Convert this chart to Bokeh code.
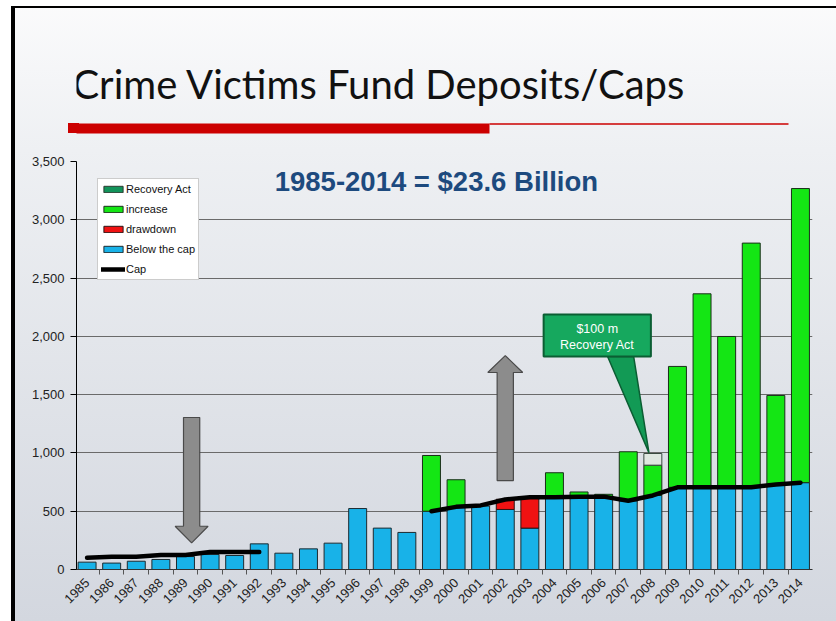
import math
import numpy as np
from bokeh.plotting import figure
from bokeh.models import (ColumnDataSource, Range1d, FixedTicker, NumeralTickFormatter,
                          Legend, LegendItem, Label, BoxAnnotation)
from bokeh.layouts import column
from bokeh.embed import file_html
from bokeh.resources import INLINE
from bokeh.core.properties import value

# ---------------- data ----------------
years = list(range(1985, 2015))
year_labels = [str(y) for y in years]
below_cap = [63, 55, 71, 86, 111, 129, 120, 220, 140, 177, 226, 523, 355, 318,
             500, 535, 544, 515, 355, 620, 620, 625, 590, 635, 705, 705, 705, 705, 730, 745]
drawdown = [0] * 17 + [88, 265] + [0] * 11
increase = [0] * 14 + [478, 235, 0, 0, 0, 210, 45, 20, 420, 260, 1037, 1660, 1294, 2095, 763, 2523]
recovery = [0] * 23 + [100] + [0] * 6
cap = [100, 110, 110, 125, 125, 150, 150, 150] + [float("nan")] * 6 + \
      [500, 537.5, 550, 600, 620, 620, 625, 625, 590, 635, 705, 705, 705, 705, 730, 745]
y_ticks = [0, 500, 1000, 1500, 2000, 2500, 3000, 3500]

title_text = "Crime Victims Fund Deposits/Caps"
subtitle_text = "1985-2014 = $23.6 Billion"
callout_lines = ["$100 m", "Recovery Act"]

HDR_H = 140
# ---------------- header figure (frame aligned with chart frame: page x 76..812) ----------------
hdr = figure(width=836, height=HDR_H, x_range=Range1d(76, 812), y_range=Range1d(HDR_H, 0),
             min_border_left=76, min_border_right=24, min_border_top=0, min_border_bottom=0,
             toolbar_location=None, output_backend="svg",
             x_axis_location=None, y_axis_location=None)
hdr.grid.visible = False
hdr.outline_line_color = None
hdr.background_fill_alpha = 0
hdr.border_fill_alpha = 0
hdr.add_layout(Label(x=72, y=83, text=title_text, text_font="Lato", text_font_size="40px",
                     text_color="#111111", text_baseline="alphabetic", text_align="left"))
hdr.add_layout(BoxAnnotation(left=68, right=489, top=123, bottom=133, fill_color="#cc0000",
                             fill_alpha=1, line_color=None))
hdr.add_layout(BoxAnnotation(left=489, right=788, top=122.8, bottom=124.2, fill_color="#cc0000",
                             fill_alpha=1, line_color=None))

# ---------------- chart figure ----------------
p = figure(width=836, height=621 - HDR_H, x_range=Range1d(1984.57, 2014.49), y_range=Range1d(0, 3500),
           min_border_left=76, min_border_right=24, min_border_top=161 - HDR_H,
           min_border_bottom=621 - 569,
           toolbar_location=None, output_backend="svg")
p.background_fill_alpha = 0
p.border_fill_alpha = 0
p.outline_line_color = None
p.xgrid.visible = False
p.ygrid.grid_line_color = "#6a6a6a"
p.ygrid.grid_line_width = 1
p.ygrid.ticker = FixedTicker(ticks=y_ticks)

p.yaxis.ticker = FixedTicker(ticks=y_ticks)
p.yaxis.formatter = NumeralTickFormatter(format="0,0")
p.yaxis.axis_line_color = "#000000"
p.yaxis.major_tick_out = 6
p.yaxis.major_tick_in = 0
p.yaxis.minor_tick_out = 0
p.yaxis.minor_tick_in = 0
p.yaxis.major_label_text_font = "Liberation Sans"
p.yaxis.major_label_text_font_size = "13px"
p.yaxis.major_label_text_color = "#222222"
p.yaxis.major_label_standoff = 6

bounds = [y - 0.5 for y in years] + [years[-1] + 0.5]
p.xaxis.ticker = FixedTicker(ticks=years, minor_ticks=bounds)
p.xaxis.major_label_overrides = {y: s for y, s in zip(years, year_labels)}
p.xaxis.major_label_orientation = math.pi / 4
p.xaxis.major_label_text_font = "Liberation Sans"
p.xaxis.major_label_text_font_size = "13px"
p.xaxis.major_label_text_color = "#222222"
p.xaxis.axis_line_color = "#333333"
p.xaxis.major_tick_out = 0
p.xaxis.major_tick_in = 0
p.xaxis.minor_tick_out = 5
p.xaxis.minor_tick_in = 0
p.xaxis.minor_tick_line_color = "#555555"
p.xaxis.major_label_standoff = 6

# stacked segments built from the arrays
b = np.array(below_cap, dtype=float)
d = np.array(drawdown, dtype=float)
inc = np.array(increase, dtype=float)
rec = np.array(recovery, dtype=float)
yrs = np.array(years, dtype=float)

def seg_source(bottom, height):
    m = height > 0
    return ColumnDataSource(dict(x=yrs[m], bottom=bottom[m], top=(bottom + height)[m]))

BW = 0.73
r_below = p.vbar(x="x", bottom="bottom", top="top", width=BW, source=seg_source(np.zeros_like(b), b),
                 fill_color="#18b2e8", line_color="#1c2a30", line_width=1)
r_draw = p.vbar(x="x", bottom="bottom", top="top", width=BW, source=seg_source(b, d),
                fill_color="#f01212", line_color="#2a1414", line_width=1)
r_inc = p.vbar(x="x", bottom="bottom", top="top", width=BW, source=seg_source(b + d, inc),
               fill_color="#14e614", line_color="#1a2e1a", line_width=1)
r_rec = p.vbar(x="x", bottom="bottom", top="top", width=BW, source=seg_source(b + d + inc, rec),
               fill_color="#dfe7e1", line_color="#3a4a40", line_width=1)
# legend swatch for Recovery Act (dark green, as in the legend); single point kept outside the view
r_rec_leg = p.vbar(x=[1900], bottom=[0], top=[1], width=BW, fill_color="#12935a",
                   line_color="#2a3a30", line_width=1)

r_cap = p.line(x=years, y=cap, line_color="#000000", line_width=4.5, line_cap="round")

# arrows (decorative)
def block_arrow(cx, top, base, tip, hw, hhw):
    return ([cx - hw, cx + hw, cx + hw, cx + hhw, cx, cx - hhw, cx - hw],
            [top, top, base, base, tip, base, base])

ax1, ay1 = block_arrow(1989.25, 1304, 371, 229, 0.33, 0.67)
ax2, ay2 = block_arrow(2002.0, 763, 1690, 1835, 0.33, 0.71)
p.patches(xs=[ax1, ax2], ys=[ay1, ay2], fill_color="#8c8c8c", line_color="#4a4a4a", line_width=1.2)

# callout
p.patch(x=[2006.16, 2007.22, 2007.84], y=[1827, 1827, 1003], fill_color="#129a55",
        line_color="#0b5e33", line_width=1.5)
p.quad(left=[2003.56], right=[2007.92], bottom=[1827], top=[2187], fill_color="#16a85e",
       line_color="#0b5e33", line_width=2)
p.add_layout(Label(x=2005.74, y=2067, text=callout_lines[0], text_align="center",
                   text_baseline="middle", text_font="Liberation Sans", text_font_size="12.5px",
                   text_color="#ffffff"))
p.add_layout(Label(x=2005.74, y=1930, text=callout_lines[1], text_align="center",
                   text_baseline="middle", text_font="Liberation Sans", text_font_size="12.5px",
                   text_color="#ffffff"))

# subtitle
p.add_layout(Label(x=1999.2, y=3328, text=subtitle_text, text_align="center",
                   text_baseline="middle", text_font="Liberation Sans", text_font_size="27.5px",
                   text_font_style="bold", text_color="#1d4a7e"))

# y axis unit label (tiny, overlapping the ticks as in the slide)
p.add_layout(Label(x=-28, y=235, x_units="screen", y_units="screen", text="Millions", angle=math.pi / 2,
                   text_align="center", text_baseline="middle", text_font="Liberation Sans",
                   text_font_size="8px", text_font_style="bold", text_color="#222222"))

legend = Legend(items=[LegendItem(label="Recovery Act", renderers=[r_rec_leg]),
                       LegendItem(label="increase", renderers=[r_inc]),
                       LegendItem(label="drawdown", renderers=[r_draw]),
                       LegendItem(label="Below the cap", renderers=[r_below]),
                       LegendItem(label="Cap", renderers=[r_cap])],
                location=(21, 289), orientation="vertical")
legend.glyph_width = 24
legend.glyph_height = 8
legend.label_height = 14
legend.label_standoff = 1
legend.spacing = 6
legend.padding = 3
legend.margin = 0
legend.label_text_font = "Liberation Sans"
legend.label_text_font_size = "11px"
legend.label_text_color = "#111111"
legend.border_line_color = "#9a9a9a"
legend.border_line_width = 1
legend.background_fill_color = "#ffffff"
legend.background_fill_alpha = 1
p.add_layout(legend)

bg = ("linear-gradient(#cc0000,#cc0000) 68px 123px / 11px 10px no-repeat, "
      "linear-gradient(#000,#000) 11px 6px / 4px 100% no-repeat, "
      "linear-gradient(#000,#000) 11px 6px / 100% 2px no-repeat, "
      "linear-gradient(#fff,#fff) 0 0 / 11px 100% no-repeat, "
      "linear-gradient(#fff,#fff) 0 0 / 100% 6px no-repeat, "
      "linear-gradient(180deg, #fbfbfc 0%, #eef0f3 24%, #d3d7df 100%)")
layout = column(hdr, p, spacing=0, styles={"background": bg})

open("out.html", "w").write(file_html(layout, INLINE))
